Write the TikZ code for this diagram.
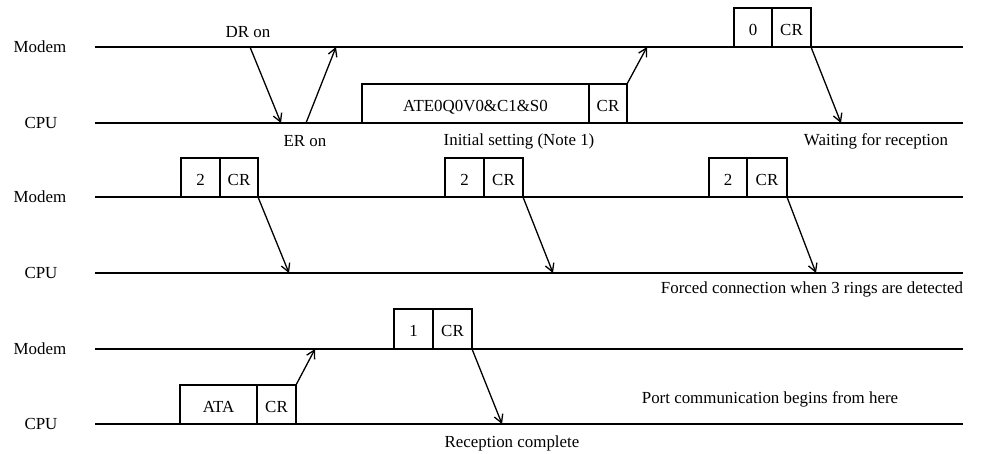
\documentclass[tikz,border=0pt]{standalone}
\usepackage{fontspec}
\setmainfont{Liberation Serif}
\usetikzlibrary{arrows.meta}
\begin{document}
\begin{tikzpicture}[x=1pt,y=-1pt,
  every node/.style={font=\fontsize{16.9}{19}\selectfont, inner sep=0pt, outer sep=0pt},
  lifeline/.style={line width=1.8pt},
  who/.style={anchor=center},
  cell/.style={draw, line width=1.6pt, anchor=south west, minimum height=39pt,
    text height=15pt, text depth=0pt},
  signal/.style={line width=1.3pt, -{Straight Barb[length=8pt,width=9pt,line width=1.3pt]}},
  note/.style={anchor=center}]
\useasboundingbox (0,0) rectangle (992,453);

% ---------- section 1: power-up and initial setting ----------
\coordinate (m1s) at (95,47);  \coordinate (m1e) at (963,47);
\coordinate (c1s) at (95,123); \coordinate (c1e) at (963,123);
\draw[lifeline] (m1s) -- (m1e);
\draw[lifeline] (c1s) -- (c1e);
\node[who] (m1) at (40,47) {Modem};
\node[who] (c1) at (41,123) {CPU};

\coordinate (drs) at (250,47);  \coordinate (dre) at (281,123);
\coordinate (ers) at (306,123); \coordinate (ere) at (336,47);
\draw[signal] (drs) -- (dre);
\draw[signal] (ers) -- (ere);
\node[note] (dr) at (248,32) {DR on};
\node[note] (er) at (305,141) {ER on};

\node[cell, minimum width=227pt] (ate) at (362,123) {ATE0Q0V0\&C1\&S0};
\node[cell, minimum width=38pt] (atecr) at (ate.south east) {CR};
\coordinate (ateok) at (647,47);
\draw[signal] (atecr.north east) -- (ateok);
\node[note] (init) at (519,141) {Initial setting (Note 1)};

\node[cell, minimum width=38pt] (zero) at (734,47) {0};
\node[cell, minimum width=39pt] (zerocr) at (zero.south east) {CR};
\coordinate (zeroin) at (841,123);
\draw[signal] (zerocr.south east) -- (zeroin);
\node[note] (wait) at (876,141) {Waiting for reception};

% ---------- section 2: ring detection ----------
\coordinate (m2s) at (95,197);  \coordinate (m2e) at (963,197);
\coordinate (c2s) at (95,273);  \coordinate (c2e) at (963,273);
\draw[lifeline] (m2s) -- (m2e);
\draw[lifeline] (c2s) -- (c2e);
\node[who] (m2) at (40,197) {Modem};
\node[who] (c2) at (41,273) {CPU};

\node[cell, minimum width=39pt] (ringa) at (181,197) {2};
\node[cell, minimum width=38pt] (ringacr) at (ringa.south east) {CR};
\coordinate (ringain) at (289,273);
\draw[signal] (ringacr.south east) -- (ringain);

\node[cell, minimum width=39pt] (ringb) at (445,197) {2};
\node[cell, minimum width=39pt] (ringbcr) at (ringb.south east) {CR};
\coordinate (ringbin) at (553,273);
\draw[signal] (ringbcr.south east) -- (ringbin);

\node[cell, minimum width=38pt] (ringc) at (709,197) {2};
\node[cell, minimum width=40pt] (ringccr) at (ringc.south east) {CR};
\coordinate (ringcin) at (816,273);
\draw[signal] (ringccr.south east) -- (ringcin);

\node[note] (forced) at (812,289) {Forced connection when 3 rings are detected};

% ---------- section 3: answering the call ----------
\coordinate (m3s) at (95,349);  \coordinate (m3e) at (963,349);
\coordinate (c3s) at (95,424);  \coordinate (c3e) at (963,424);
\draw[lifeline] (m3s) -- (m3e);
\draw[lifeline] (c3s) -- (c3e);
\node[who] (m3) at (40,349) {Modem};
\node[who] (c3) at (41,424) {CPU};

\node[cell, minimum width=77pt, minimum height=39pt] (ata) at (180,424) {ATA};
\node[cell, minimum width=39pt, minimum height=39pt] (atacr) at (ata.south east) {CR};
\coordinate (ataok) at (315,349);
\draw[signal] (atacr.north east) -- (ataok);

\node[cell, minimum width=39pt, minimum height=40pt] (one) at (394,349) {1};
\node[cell, minimum width=39pt, minimum height=40pt] (onecr) at (one.south east) {CR};
\coordinate (onein) at (502,424);
\draw[signal] (onecr.south east) -- (onein);

\node[note] (port) at (770,399) {Port communication begins from here};
\node[note] (done) at (512,443) {Reception complete};
\end{tikzpicture}
\end{document}
